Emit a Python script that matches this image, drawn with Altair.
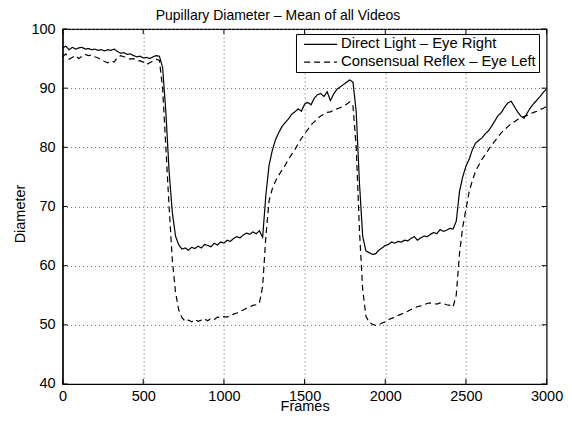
import altair as alt
import pandas as pd

# Frames sampled every 20 frames, 0..3000
frames = list(range(0, 3001, 20))

direct_right = [
    # 0-180
    96.8, 97.1, 96.5, 96.9, 96.6, 96.8, 96.9, 96.6, 96.7, 96.5,
    # 200-380
    96.6, 96.4, 96.5, 96.3, 96.5, 96.4, 96.6, 96.2, 95.9, 96.0,
    # 400-580
    95.7, 95.8, 95.5, 95.3, 95.4, 95.1, 95.2, 95.0, 95.3, 95.5,
    # 600-780
    95.4, 93.5, 86.0, 76.0, 69.0, 65.0, 63.5, 62.8, 63.0, 62.6,
    # 800-980
    63.1, 62.9, 63.3, 63.0, 63.6, 63.4, 63.2, 63.8, 63.5, 64.0,
    # 1000-1180
    63.8, 64.3, 64.1, 64.6, 64.9, 64.7, 65.2, 65.5, 65.3, 65.7,
    # 1200-1380
    65.4, 65.9, 64.8, 72.0, 77.0, 79.5, 81.3, 82.5, 83.5, 84.2,
    # 1400-1580
    84.8, 85.6, 86.0, 86.5, 86.1, 87.3, 87.6, 87.2, 88.3, 88.9,
    # 1600-1780
    89.1, 88.6, 89.4, 87.9, 89.0, 89.8, 90.2, 90.6, 91.0, 91.4,
    # 1800-1980
    91.0, 86.0, 74.0, 65.0, 62.5, 62.2, 61.9, 62.0, 62.6, 63.0,
    # 2000-2180
    63.4, 63.6, 64.0, 63.8, 64.1, 64.0, 64.3, 64.2, 64.6, 64.9,
    # 2200-2380
    64.3, 64.7, 65.0, 64.9, 65.3, 65.6, 65.4, 66.1, 65.8, 66.0,
    # 2400-2580
    66.3, 66.2, 67.5, 72.5, 75.0, 76.8, 78.0, 79.6, 80.7, 81.2,
    # 2600-2780
    81.6, 82.3, 82.8, 83.6, 84.5, 85.4, 85.9, 86.8, 87.5, 87.8,
    # 2800-2980
    86.9, 86.0, 85.3, 84.9, 85.8, 86.7, 87.4, 88.0, 88.6, 89.3,
    # 3000
    89.9,
]

consensual_left = [
    # 0-180
    95.3, 95.8, 94.9, 95.2, 95.5, 95.0, 95.4, 95.7, 95.5, 95.6,
    # 200-380
    95.3, 95.1, 94.8, 94.5, 94.3, 94.6, 94.4, 95.2, 95.5, 95.3,
    # 400-580
    95.1, 94.9, 95.0, 94.7, 94.6, 94.4, 94.0, 94.3, 94.6, 94.9,
    # 600-780
    94.7, 90.0, 80.0, 70.0, 61.0, 55.5, 52.5, 51.2, 50.6, 50.8,
    # 800-980
    50.5, 50.9, 50.6, 50.8, 51.0, 50.7, 51.1, 50.9, 51.3, 51.2,
    # 1000-1180
    51.4, 51.3, 51.6, 51.8, 52.0, 52.3, 52.5, 52.8, 53.0, 53.3,
    # 1200-1380
    53.4, 53.7, 56.5, 65.0, 71.0, 73.0, 74.3, 75.3, 76.2, 77.0,
    # 1400-1580
    78.0, 78.8, 79.6, 80.6, 81.5, 82.3, 83.0, 83.8, 84.3, 84.9,
    # 1600-1780
    85.3, 85.6, 85.9, 86.0, 86.3, 86.5, 86.7, 86.9, 87.3, 87.7,
    # 1800-1980
    87.0, 80.0, 66.0, 56.0, 51.5, 50.4, 50.1, 49.9, 50.0, 50.3,
    # 2000-2180
    50.5, 50.9, 51.1, 51.3, 51.6, 51.8, 52.1, 52.3, 52.6, 52.8,
    # 2200-2380
    53.1, 53.2, 53.4, 53.6, 53.7, 53.6, 53.5, 53.7, 53.6, 53.4,
    # 2400-2580
    53.3, 53.0, 55.0, 62.0, 66.5, 69.5, 72.5, 74.4, 76.0, 77.0,
    # 2600-2780
    78.0, 78.8, 79.6, 80.4, 81.1, 81.8, 82.5, 83.0, 83.5, 84.0,
    # 2800-2980
    84.3, 84.7, 85.0, 85.2, 85.4, 85.7, 85.9, 86.1, 86.4, 86.6,
    # 3000
    86.9,
]

x_ticks = [0, 500, 1000, 1500, 2000, 2500, 3000]
y_ticks = [40, 50, 60, 70, 80, 90, 100]

S1 = "Direct Light – Eye Right"
S2 = "Consensual Reflex – Eye Left"
FONT = "Liberation Sans"

n = len(frames)
df = pd.DataFrame({
    "Frames": frames * 2,
    "Diameter": direct_right + consensual_left,
    "series": [S1] * n + [S2] * n,
})
xt = pd.DataFrame({"t": x_ticks})
yt = pd.DataFrame({"t": y_ticks})

W, H = 484, 355
xs = alt.Scale(domain=[0, 3000], nice=False, zero=False)
ys = alt.Scale(domain=[40, 100], nice=False, zero=False)

xaxis = alt.Axis(values=x_ticks, grid=True, ticks=False, labelPadding=6, format="d",
                 title="Frames", titlePadding=-3.5, labelFlush=False)
yaxis = alt.Axis(values=y_ticks, grid=True, ticks=False, labelPadding=7.5, format="d",
                 title="Diameter", titlePadding=3, titleY=184.5, labelFlush=False)

lines = alt.Chart(df).mark_line(color="black", strokeWidth=1.2).encode(
    x=alt.X("Frames:Q", scale=xs, axis=xaxis),
    y=alt.Y("Diameter:Q", scale=ys, axis=yaxis),
    strokeDash=alt.StrokeDash(
        "series:N",
        scale=alt.Scale(domain=[S1, S2], range=[[1, 0], [6, 4]]),
        legend=alt.Legend(
            title=None, orient="none", legendX=233.4, legendY=5,
            strokeColor="black", fillColor="white", padding=3,
            symbolType="M-3,0H3", symbolStrokeColor="black",
            symbolStrokeWidth=1.1, symbolSize=121, labelLimit=0,
            labelFont=FONT, labelFontSize=14.8, labelColor="black",
            rowPadding=1.7, labelOffset=13.0, symbolOffset=14.2,
        ),
    ),
)

bottom = alt.Chart(xt).mark_rule(color="black").encode(
    x=alt.X("t:Q", scale=xs, axis=xaxis), y=alt.value(H), y2=alt.value(H - 5))
top = alt.Chart(xt).mark_rule(color="black").encode(
    x=alt.X("t:Q", scale=xs, axis=xaxis), y=alt.value(0), y2=alt.value(5))
left = alt.Chart(yt).mark_rule(color="black").encode(
    y=alt.Y("t:Q", scale=ys, axis=yaxis), x=alt.value(0), x2=alt.value(5))
right = alt.Chart(yt).mark_rule(color="black").encode(
    y=alt.Y("t:Q", scale=ys, axis=yaxis), x=alt.value(W), x2=alt.value(W - 5))

chart = alt.layer(lines, bottom, top, left, right).properties(
    width=W, height=H, background="white",
    title=alt.Title("Pupillary Diameter – Mean of all Videos", font=FONT,
                    fontSize=14, fontWeight="normal", color="black",
                    offset=8, dx=-26.6, dy=9.5),
    autosize=alt.AutoSizeParams(type="none"),
    padding={"left": 54.6, "top": 21, "right": 17, "bottom": 29},
).configure_view(stroke="black", strokeWidth=1.2).configure_axis(
    labelFont=FONT, labelFontSize=14.5, labelColor="black",
    titleFont=FONT, titleFontSize=14.5, titleFontWeight="normal", titleColor="black",
    domain=True, domainColor="black", domainWidth=1.2,
    gridColor="#666666", gridDash=[1, 3], gridWidth=1, gridOpacity=1,
)

chart.save("out.html", embed_options={"renderer": "svg", "actions": False})
